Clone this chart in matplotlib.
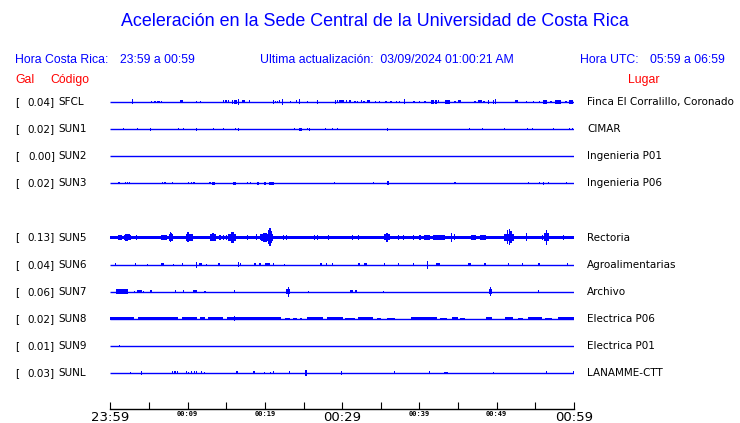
import matplotlib
matplotlib.use("Agg")
import matplotlib.pyplot as plt

# station table (SUN4 has no trace, its row stays empty)
codes = ["SFCL", "SUN1", "SUN2", "SUN3", "SUN5", "SUN6", "SUN7", "SUN8", "SUN9", "SUNL"]
gal = ["0.04", "0.02", "0.00", "0.02", "0.13", "0.04", "0.06", "0.02", "0.01", "0.03"]
places = ["Finca El Corralillo, Coronado", "CIMAR", "Ingenieria P01", "Ingenieria P06",
          "Rectoria", "Agroalimentarias", "Archivo", "Electrica P06", "Electrica P01",
          "LANAMME-CTT"]
slots = [0, 1, 2, 3, 5, 6, 7, 8, 9, 10]

# spikes: (minute after 23:59, half amplitude in counts[, duration])
sfcl = [(2.85, 2.5), (5.36, 1), (5.78, 1.2), (6.08, 1.2), (6.30, 1.2), (6.65, 1), (9.15, 1.5),
        (9.32, 1.5), (11.18, 1), (11.70, 1), (14.62, 1.5), (14.97, 1.5), (15.27, 1.5),
        (15.79, 2.2), (16.04, 2.2), (16.26, 2), (16.61, 3), (17.21, 1.5, 0.4), (17.99, 1.5),
        (21.09, 2), (21.40, 1.2), (21.66, 1.2), (21.92, 1.5), (22.26, 3), (23.34, 1.2),
        (24.12, 1.5), (24.45, 2.5), (25.49, 1), (26.84, 2.2), (29.11, 2.2), (29.42, 1.5),
        (29.94, 1.5, 0.6), (30.59, 1.5), (31.02, 1.5, 0.3), (31.66, 1), (31.96, 1.2),
        (32.53, 1.5), (32.83, 1.2), (33.43, 1.5, 0.3), (34.29, 1.2), (34.81, 1.2), (35.67, 1),
        (36.32, 1), (37.06, 1.2), (37.39, 1), (38.04, 2.5), (39.30, 1.2), (39.98, 1.2),
        (40.72, 1.2), (41.71, 1.8, 0.4), (42.14, 2.2), (42.49, 1.5), (43.60, 2, 0.6),
        (44.60, 1.2), (45.16, 1.5, 0.4), (47.19, 1), (47.84, 1.5, 0.4), (48.35, 1.2),
        (48.91, 2), (49.56, 2), (49.87, 2.5), (52.58, 1.5, 0.4), (53.88, 1), (54.73, 1.2),
        (55.51, 1.2), (56.21, 1.8, 0.5), (57.02, 1.2), (57.67, 2.2), (58.10, 2.2, 0.5),
        (58.96, 1.2), (59.61, 2, 0.5)]
sun1 = [(1.68, 1), (3.49, 1), (5.18, 1.5), (8.80, 1), (9.45, 1), (11.13, 1.5), (13.33, 1),
        (14.62, 1), (16.22, 1), (16.56, 1.5), (23.81, 1.2), (24.63, 1.5, 0.3), (25.49, 1.2),
        (25.75, 1.5), (27.82, 1.2), (28.78, 1), (29.42, 1.2), (35.84, 1.5), (46.45, 1),
        (48.18, 1.2), (50.98, 1.2), (53.95, 1.2), (54.60, 1), (57.32, 1.2), (59.39, 1.2),
        (59.78, 1.2)]
sun2 = []
sun3 = [(1.13, 1.2), (1.99, 1.2), (2.20, 1.2), (2.46, 1.2), (6.73, 1.2), (7.08, 1.2),
        (8.02, 1), (10.09, 1.2), (10.53, 1.2), (10.83, 1.2), (12.90, 1.2), (13.38, 1.5, 0.35),
        (16.04, 1.5, 0.35), (17.78, 1.2), (18.17, 1.2), (19.07, 1.5, 0.3), (20.02, 1.5, 0.3),
        (20.88, 1.5, 0.6), (28.98, 1), (34.03, 1), (35.93, 2), (44.60, 1.2), (54.08, 1.2),
        (55.51, 1), (56.03, 1.5), (56.67, 1.2), (59.05, 1)]
sun5 = [(1.04, 2.5), (1.26, 2.5, 0.6), (2.2, 2.8, 0.9), (2.12, 3.5, 0.4), (2.42, 3), (3.42, 2.2),
        (6.9, 2.5, 0.8), (7.08, 2.5), (7.85, 3.2, 0.5), (7.81, 5), (7.94, 4), (10.2, 3.2, 0.9),
        (10.09, 5, 0.3), (10.44, 3.5), (13.33, 3.2, 0.8), (13.33, 4, 0.3), (14.19, 2.5),
        (14.62, 2.5), (15.06, 2.5), (15.79, 3.5, 1.0), (15.79, 5.5, 0.4), (17.78, 2.5),
        (18.94, 3), (19.59, 3, 0.5), (20.3, 3.5, 1.6), (20.02, 4.5, 0.5), (20.44, 7), (20.66, 9),
        (20.88, 6), (22.38, 2.5), (22.82, 2.2), (26.40, 2.5), (26.84, 2.5), (28.21, 2.2),
        (31.36, 2.2), (32.09, 2.5), (35.80, 3, 0.7), (35.80, 4.7, 0.3), (37.26, 2.2),
        (37.91, 2.5), (39.21, 2.2), (40.07, 2.5), (41.02, 2.2, 0.8), (42.53, 2.2, 1.5),
        (44.17, 4.5), (44.51, 3), (46.97, 2.2, 0.6), (48.18, 2.2, 0.8), (51.6, 3.5, 1.2),
        (51.42, 7), (51.63, 8), (51.85, 6), (53.88, 4), (55.95, 2.5), (56.47, 4, 0.6),
        (56.47, 7.5), (58.61, 2.2)]
sun6 = [(0.69, 1.2), (3.28, 1.2), (4.79, 1), (6.73, 1.5, 0.4), (8.15, 1), (9.32, 1.2),
        (11.18, 3), (11.70, 1.5, 0.4), (12.47, 1), (14.06, 1.5), (16.56, 2.5), (16.87, 1.5),
        (18.72, 1.5, 0.3), (19.37, 1.5, 0.3), (20.37, 1.5, 0.6), (21.09, 1.2), (22.51, 1),
        (27.26, 1.2), (28.00, 1.5), (28.78, 1.2), (32.18, 1.5, 0.3), (33.05, 1.5, 0.4),
        (35.45, 1.2), (37.26, 1.2), (39.26, 1.5), (41.07, 4), (42.40, 1.5, 0.4),
        (46.45, 1.5, 0.4), (48.48, 1.5), (51.50, 1.2), (53.31, 1.2), (55.47, 1.5), (59.13, 1.2)]
sun7 = [(0.95, 2.5, 0.5), (1.47, 2.2, 0.6), (1.99, 2.5, 0.5), (3.11, 1), (3.49, 1.5),
        (3.84, 1.8, 0.4), (4.27, 1), (5.27, 1.5), (8.46, 1.5), (9.45, 1.5), (10.96, 1.5, 0.4),
        (12.25, 1), (16.13, 1.5), (23.03, 2.5, 0.5), (23.03, 5), (25.62, 1), (31.23, 1.5, 0.4),
        (31.79, 1.2), (35.32, 1), (49.22, 2.5, 0.4), (49.22, 4.5), (55.38, 1.5)]
sun8 = [(16.04, 2.7)]
sun9 = [(1.17, 1.2)]
sunl = [(2.59, 1), (4.01, 1.7), (8.02, 1.5), (8.37, 1.5), (8.67, 1.5), (9.83, 1.5), (10.09, 1),
        (10.53, 1.5), (10.87, 1.5), (11.18, 1.5), (11.83, 1.5), (12.16, 1), (16.39, 1.5, 0.3),
        (18.63, 1.5, 0.3), (19.93, 1), (20.70, 1), (21.09, 1.5), (23.16, 1.5), (25.32, 3, 0.3),
        (29.89, 2.3), (36.75, 1.5), (41.28, 1.5), (43.31, 1.2), (43.57, 1.2), (49.56, 1),
        (56.41, 1.5), (59.9, 1.5)]
spikes = [sfcl, sun1, sun2, sun3, sun5, sun6, sun7, sun8, sun9, sunl]

# continuous noise bands: (start minute, end minute, half amplitude)
sun5_band = [(0, 60, 1.8)]
sun8_band = [(0, 3.1, 1.6), (3.62, 8.8, 1.6), (9.32, 11.18, 1.6), (11.61, 12.25, 1.6),
             (12.68, 14.62, 1.6), (15.06, 22.09, 1.6), (22.60, 23.25, 1.2), (23.68, 24.12, 1.2),
             (24.55, 24.77, 1.2), (25.41, 27.56, 1.6), (28.0, 30.15, 1.6), (30.37, 31.66, 1.0),
             (32.09, 34.03, 1.6), (34.47, 35.03, 1.2), (35.76, 36.84, 1.2), (38.91, 42.23, 1.6),
             (42.66, 43.53, 1.2), (44.17, 44.95, 1.6), (45.25, 45.90, 1.2), (48.57, 49.35, 1.6),
             (51.07, 52.14, 1.6), (52.79, 53.44, 1.2), (54.08, 55.82, 1.6), (56.25, 57.11, 1.2),
             (57.97, 60, 1.6)]
bands = [[], [], [], [], sun5_band, [], [], sun8_band, [], []]

tick_min = list(range(0, 61, 5))
tick_text = {0: "23:59", 10: "00:09", 20: "00:19", 30: "00:29", 40: "00:39", 50: "00:49", 60: "00:59"}
big_ticks = [0, 30, 60]

BLUE = "#0000ff"
RED = "#ff0000"
W, H = 740, 423
px = 1 / 27.1  # counts -> row units

fig = plt.figure(figsize=(W / 100, H / 100), dpi=100)
ax = fig.add_axes([110.3 / W, (H - 409) / H, 463.7 / W, (409 - 74.9) / H])
ax.set_xlim(0, 60)
ax.set_ylim(11.33, -1)
for s in ["left", "right", "top"]:
    ax.spines[s].set_visible(False)
ax.spines["bottom"].set_linewidth(1.0)
ax.set_yticks([])

for slot, ev, band in zip(slots, spikes, bands):
    ax.plot([0, 60], [slot, slot], color=BLUE, lw=1.0, solid_capstyle="butt")
    for t0, t1, a in band:
        ax.bar(t0, 2 * a * px, width=t1 - t0, bottom=slot - a * px, align="edge",
               color=BLUE, linewidth=0)
    for e in ev:
        w = e[2] if len(e) > 2 else 0.14
        ax.bar(e[0], 2 * e[1] * px, width=w, bottom=slot - e[1] * px, color=BLUE, linewidth=0)

ax.set_xticks(tick_min)
ax.set_xticklabels([tick_text.get(m, "") for m in tick_min])
ax.tick_params(axis="x", direction="in", length=5, width=0.8, pad=1.5)
for m, lab in zip(tick_min, ax.get_xticklabels()):
    if m in big_ticks:
        lab.set_fontsize(9.5)
        lab.set_family("DejaVu Sans")
    else:
        lab.set_fontsize(5)
        lab.set_family("DejaVu Sans Mono")
        lab.set_fontweight("bold")

def ftext(x, y, s, **kw):
    fig.text(x / W, 1 - y / H, s, va="center", **kw)

sans = "Liberation Sans"
ftext(375, 22, "Aceleración en la Sede Central de la Universidad de Costa Rica",
      ha="center", color=BLUE, fontsize=12.9, family=sans)
ftext(15, 60, "Hora Costa Rica:", color=BLUE, fontsize=8.8, family=sans)
ftext(120, 60, "23:59 a 00:59", color=BLUE, fontsize=8.8, family=sans)
ftext(260, 60, "Ultima actualización:  03/09/2024 01:00:21 AM", color=BLUE, fontsize=8.8, family=sans)
ftext(580, 60, "Hora UTC:", color=BLUE, fontsize=8.8, family=sans)
ftext(650, 60, "05:59 a 06:59", color=BLUE, fontsize=8.8, family=sans)
ftext(15, 80, "Gal", color=RED, fontsize=8.8, family=sans)
ftext(50, 80, "Código", color=RED, fontsize=8.8, family=sans)
ftext(628, 80, "Lugar", color=RED, fontsize=8.8, family=sans)

row_y = 102
row_dy = 27.1
for slot, c, g, p in zip(slots, codes, gal, places):
    y = row_y + slot * row_dy
    ftext(15, y, "[", fontsize=7.5)
    ftext(55, y, g + "]", ha="right", fontsize=7.5)
    ftext(58, y, c, fontsize=7.5)
    ftext(587, y, p, fontsize=7.5)

fig.savefig("out.png", dpi=100)
